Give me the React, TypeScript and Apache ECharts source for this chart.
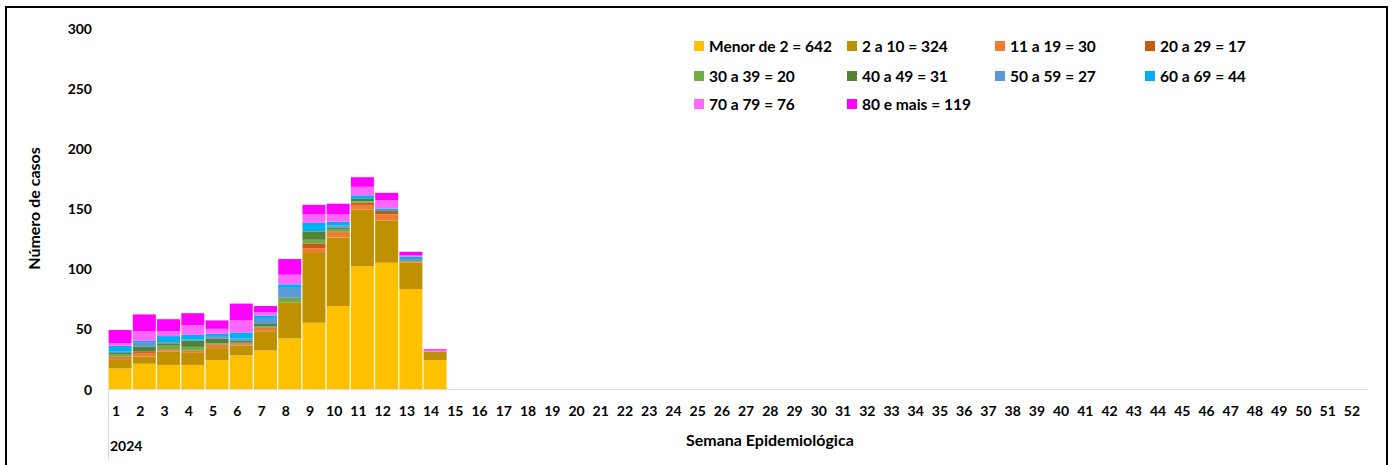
import { useEffect, useRef } from "react";
import * as echarts from "echarts";

// ---- Data ----
const weeks: string[] = [
  "1","2","3","4","5","6","7","8","9","10","11","12","13","14","15","16","17","18","19","20",
  "21","22","23","24","25","26","27","28","29","30","31","32","33","34","35","36","37","38","39","40",
  "41","42","43","44","45","46","47","48","49","50","51","52",
];
const yTicks = [0, 50, 100, 150, 200, 250, 300];
const yearLabel = "2024";

const ageGroups = [
  "Menor de 2", "2 a 10", "11 a 19", "20 a 29", "30 a 39",
  "40 a 49", "50 a 59", "60 a 69", "70 a 79", "80 e mais",
];
const legendTotals = [642, 324, 30, 17, 20, 31, 27, 44, 76, 119];

// values per epidemiological week (weeks 1..14)
const menor2 = [17, 21, 20, 20, 24, 28, 32, 42, 55, 69, 102, 105, 83, 24];
const a2a10 = [7, 6, 11, 10, 10, 8, 16, 30, 58, 57, 47, 35, 22, 7];
const a11a19 = [2, 3, 1, 1, 2, 1, 2, 0, 4, 4, 4, 5, 1, 0];
const a20a29 = [1, 1, 1, 1, 1, 1, 1, 0, 4, 1, 2, 3, 0, 0];
const a30a39 = [2, 0, 3, 3, 1, 1, 1, 3, 3, 2, 1, 0, 0, 0];
const a40a49 = [1, 4, 2, 5, 4, 1, 2, 1, 7, 1, 2, 0, 1, 0];
const a50a59 = [1, 4, 1, 1, 2, 2, 5, 8, 0, 2, 0, 0, 1, 0];
const a60a69 = [5, 1, 5, 4, 2, 5, 2, 3, 7, 3, 3, 2, 2, 0];
const a70a79 = [2, 8, 4, 8, 4, 10, 3, 8, 7, 6, 7, 7, 1, 1];
const a80mais = [11, 14, 10, 10, 7, 14, 5, 13, 8, 9, 8, 6, 3, 1];

const seriesValues = [menor2, a2a10, a11a19, a20a29, a30a39, a40a49, a50a59, a60a69, a70a79, a80mais];

// ---- Styles ----
const colors = [
  "#FFC000", "#BF9000", "#ED7D31", "#C55A11", "#70AD47",
  "#548235", "#5B9BD5", "#00B0F0", "#FF66FF", "#FF00FF",
];
const legendCols = [694, 847, 995, 1145];
const legendRows = [38, 68, 96];
const FONT = "Lato";

export default function App() {
  const ref = useRef<HTMLDivElement>(null);

  useEffect(() => {
    if (!ref.current) return;
    const chart = echarts.init(ref.current, undefined, { renderer: "svg" });

    const labelFor = (i: number) => `${ageGroups[i]} = ${legendTotals[i]}`;

    const legends = ageGroups.map((_, i) => ({
      show: true,
      left: legendCols[i % 4],
      top: legendRows[Math.floor(i / 4)],
      orient: "horizontal",
      icon: "rect",
      itemWidth: 10,
      itemHeight: 10,
      padding: 0,
      selectedMode: false,
      data: [labelFor(i)],
      textStyle: { fontFamily: FONT, fontWeight: "bold", fontSize: 15.5, color: "#000" },
    }));

    chart.setOption({
      animation: false,
      backgroundColor: "#fff",
      grid: { left: 108, right: 25, top: 28, bottom: 76, containLabel: false },
      legend: legends,
      xAxis: {
        type: "category",
        data: weeks,
        axisLine: { show: true, lineStyle: { color: "#D9D9D9", width: 1 } },
        axisTick: { show: false },
        axisLabel: {
          interval: 0,
          margin: 14,
          fontFamily: FONT,
          fontWeight: "bold",
          fontSize: 14,
          color: "#000",
          padding: [0, 8, 0, 0],
        },
      },
      yAxis: {
        type: "value",
        min: yTicks[0],
        max: yTicks[yTicks.length - 1],
        interval: 50,
        name: "Número de casos",
        nameLocation: "middle",
        nameRotate: 90,
        nameGap: 67,
        nameTextStyle: { fontFamily: FONT, fontWeight: "bold", fontSize: 16, color: "#000" },
        axisLine: { show: false },
        axisTick: { show: false },
        splitLine: { show: false },
        axisLabel: {
          margin: 16,
          fontFamily: FONT,
          fontWeight: "bold",
          fontSize: 14,
          color: "#000",
        },
      },
      series: seriesValues.map((vals, i) => ({
        name: labelFor(i),
        type: "bar",
        stack: "total",
        data: vals,
        barWidth: "95%",
        itemStyle: { color: colors[i] },
      })),
      graphic: [
        {
          type: "rect",
          shape: { x: 6, y: 7, width: 1381, height: 480 },
          style: { fill: "none", stroke: "#000", lineWidth: 2 },
          silent: true,
        },
        {
          type: "line",
          shape: { x1: 108.5, y1: 389, x2: 108.5, y2: 460 },
          style: { stroke: "#D9D9D9", lineWidth: 1 },
          silent: true,
        },
        {
          type: "text",
          left: 110,
          top: 438,
          style: { text: yearLabel, fontFamily: FONT, fontWeight: "bold", fontSize: 14, fill: "#000" },
        },
        {
          type: "text",
          left: 686,
          top: 431,
          style: {
            text: "Semana Epidemiológica",
            fontFamily: FONT,
            fontWeight: "bold",
            fontSize: 16,
            fill: "#000",
          },
        },
      ],
    });

    return () => chart.dispose();
  }, []);

  return (
    <div
      ref={ref}
      style={{ position: "fixed", left: 0, top: 0, width: 1393, height: 465, background: "#fff" }}
    />
  );
}
